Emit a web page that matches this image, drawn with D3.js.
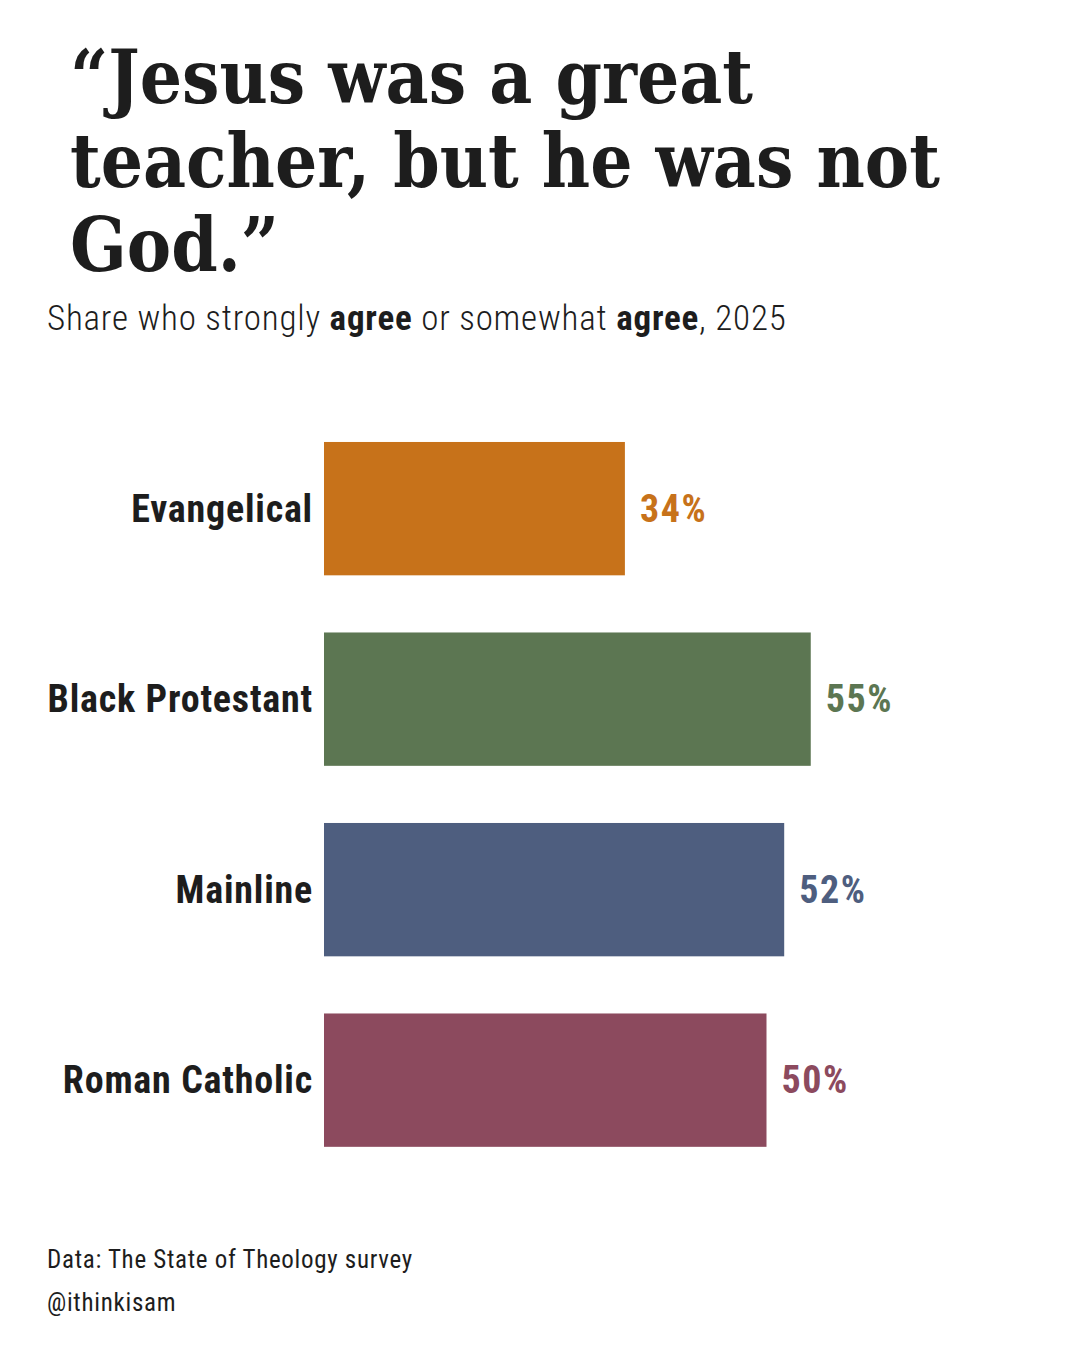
<!DOCTYPE html>
<html>
<head>
<meta charset="utf-8">
<script src="https://cdn.jsdelivr.net/npm/d3@7"></script>
<style>
  body { margin: 0; background: #fff; }
  svg { display: block; }
</style>
</head>
<body>
<svg id="chart"></svg>
<script>
var categories = ["Evangelical", "Black Protestant", "Mainline", "Roman Catholic"];
var values = [34, 55, 52, 50];
var colors = ["#c7721a", "#5c7652", "#4e5e7f", "#8c4a5e"];

var titleLines = ["\u201cJesus was a great", "teacher, but he was not", "God.\u201d"];
var footLines = ["Data: The State of Theology survey", "@ithinkisam"];

var width = 1080, height = 1350;
var ink = "#1d1d1d";
var cond = "'Roboto Condensed', 'Liberation Sans Narrow', 'DejaVu Sans Condensed', Roboto, sans-serif";
var slab = "'Roboto Slab', 'DejaVu Serif Condensed', 'DejaVu Serif', serif";

var svg = d3.select("#chart")
  .attr("width", width)
  .attr("height", height);

// title, sized so the long middle line spans about 870px
var title = svg.append("g")
  .attr("font-family", slab)
  .attr("font-weight", 700)
  .attr("font-size", 78)
  .attr("fill", ink);

var tl = title.selectAll("text")
  .data(titleLines)
  .enter().append("text")
    .attr("x", 70)
    .attr("y", (d, i) => 103 + i * 84)
    .text(d => d);

var w2 = tl.nodes()[1].getComputedTextLength();
title.attr("font-size", 78 * 870 / w2);

// subtitle
var sub = svg.append("text")
  .attr("x", 47)
  .attr("y", 330)
  .attr("font-family", cond)
  .attr("font-weight", 300)
  .attr("font-size", 35)
  .attr("letter-spacing", 0.8)
  .attr("fill", ink);
sub.append("tspan").text("Share who strongly ");
sub.append("tspan").attr("font-weight", 700).text("agree");
sub.append("tspan").text(" or somewhat ");
sub.append("tspan").attr("font-weight", 700).text("agree");
sub.append("tspan").text(", 2025");

// scales
var x = d3.scaleLinear()
  .domain([0, 100])
  .range([324, 324 + 885]);

var y = d3.scaleBand()
  .domain(categories)
  .range([413.4, 1175.4])
  .paddingInner(0.3)
  .paddingOuter(0.15);

var color = d3.scaleOrdinal()
  .domain(categories)
  .range(colors);

var data = categories.map(function(c, i) { return {name: c, value: values[i]}; });

var g = svg.append("g");

g.selectAll("rect")
  .data(data)
  .enter().append("rect")
    .attr("x", x(0))
    .attr("y", d => y(d.name))
    .attr("width", d => x(d.value) - x(0))
    .attr("height", y.bandwidth())
    .attr("fill", d => color(d.name));

// category labels
g.selectAll("text.cat")
  .data(data)
  .enter().append("text")
    .attr("class", "cat")
    .attr("x", x(0) - 11)
    .attr("y", d => y(d.name) + y.bandwidth() / 2)
    .attr("dy", "0.35em")
    .attr("text-anchor", "end")
    .attr("font-family", cond)
    .attr("font-weight", 700)
    .attr("font-size", 38)
    .attr("letter-spacing", 0.8)
    .attr("fill", ink)
    .text(d => d.name);

// value labels
g.selectAll("text.val")
  .data(data)
  .enter().append("text")
    .attr("class", "val")
    .attr("x", d => x(d.value) + 15)
    .attr("y", d => y(d.name) + y.bandwidth() / 2)
    .attr("dy", "0.35em")
    .attr("font-family", cond)
    .attr("font-weight", 700)
    .attr("font-size", 38)
    .attr("letter-spacing", 1.6)
    .attr("fill", d => color(d.name))
    .text(d => d.value + "%");

// footer
svg.selectAll("text.foot")
  .data(footLines)
  .enter().append("text")
    .attr("class", "foot")
    .attr("x", 47)
    .attr("y", (d, i) => 1268 + i * 43)
    .attr("font-family", cond)
    .attr("font-weight", 400)
    .attr("font-size", 25)
    .attr("letter-spacing", 0.7)
    .attr("fill", ink)
    .text(d => d);
</script>
</body>
</html>
